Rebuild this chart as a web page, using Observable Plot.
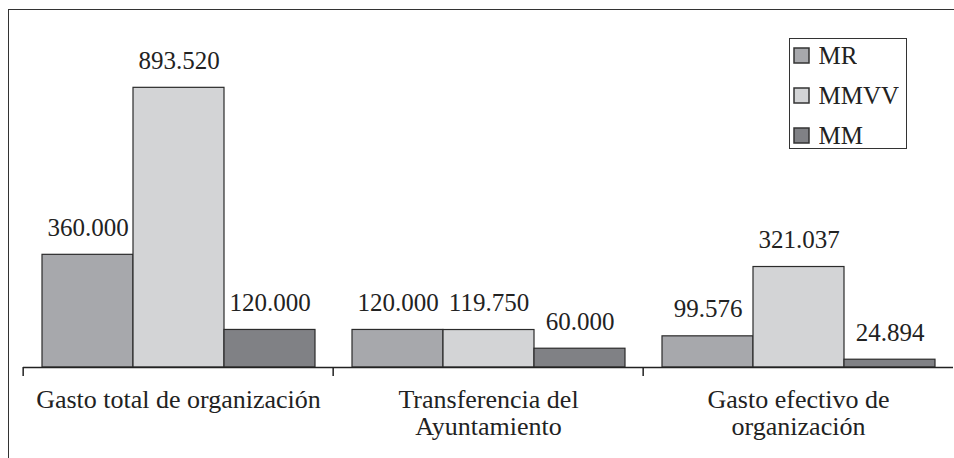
<!DOCTYPE html>
<html>
<head>
<meta charset="utf-8">
<script src="https://cdn.jsdelivr.net/npm/d3@7"></script>
<script src="https://cdn.jsdelivr.net/npm/@observablehq/plot@0.6"></script>
<style>
  html, body { margin: 0; padding: 0; background: #fff; }
  #wrap { position: relative; width: 954px; height: 458px; overflow: hidden; background: #fff; }
  #frame { position: absolute; left: 8px; top: 9px; width: 1200px; height: 800px;
           border-top: 1.5px solid #333; border-left: 1.5px solid #333; pointer-events: none; }
  #chart { position: absolute; left: 0; top: 0; }
  #legendBox { position: absolute; left: 789px; top: 38px; width: 118px; height: 111px;
               box-sizing: border-box; border: 1.5px solid #333; background: #fff; }
  #legend { position: absolute; left: 3.5px; top: -3.5px; }
  #legend .lg-swatches { font-family: "Liberation Serif", "Times New Roman", serif; font-size: 25px; color: #222; margin: 0; }
  #legend .lg-swatch { height: 40px; display: flex; align-items: center; padding: 0; margin: 0; }
  #legend .lg-swatch svg { margin-right: 10px; overflow: visible; }
  #legend .lg-swatch svg rect { stroke: #333; stroke-width: 1.5px; }
</style>
</head>
<body>
<div id="wrap">
  <div id="chart"></div>
  <div id="frame"></div>
  <div id="legendBox"><div id="legend"></div></div>
</div>
<script>
const categories = ["Gasto total de organización", "Transferencia del Ayuntamiento", "Gasto efectivo de organización"];
const tickLabels = ["Gasto total de organización", "Transferencia del\nAyuntamiento", "Gasto efectivo de\norganización"];
const seriesNames = ["MR", "MMVV", "MM"];
const valuesMR = [360000, 120000, 99576];
const valuesMMVV = [893520, 119750, 321037];
const valuesMM = [120000, 60000, 24894];
const seriesColors = ["#a7a8ac", "#d3d4d6", "#808185"];

const seriesValues = [valuesMR, valuesMMVV, valuesMM];
const rows = [];
categories.forEach((c, ci) => {
  seriesNames.forEach((s, si) => {
    rows.push({category: c, series: s, value: seriesValues[si][ci]});
  });
});

const locale = d3.formatLocale({decimal: ",", thousands: ".", grouping: [3], currency: ["", " €"]});
const fmt = locale.format(",d");

const W = 954, H = 458, mL = 22, mR = 0;
const bandW = (W - mL - mR) / categories.length;
const serif = '"Liberation Serif", "Times New Roman", serif';

const chart = Plot.plot({
  width: W,
  height: H,
  marginLeft: mL,
  marginRight: mR,
  marginTop: 54,
  marginBottom: 91,
  style: {fontFamily: serif, background: "transparent", color: "#222"},
  fx: {domain: categories, padding: 0, label: null},
  x: {domain: seriesNames, paddingInner: 0, paddingOuter: 0.2, axis: null},
  y: {domain: [0, 1000000], axis: null},
  color: {domain: seriesNames, range: seriesColors},
  marks: [
    Plot.barY(rows, {fx: "category", x: "series", y: "value", fill: "series", stroke: "#2b2b2b", strokeWidth: 1.2}),
    Plot.ruleY([0], {stroke: "#222", strokeWidth: 1.5}),
    Plot.text(rows, {fx: "category", x: "series", y: "value", text: d => fmt(d.value),
                     lineAnchor: "bottom", dy: -19, fontSize: 25, fill: "#222"}),
    Plot.axisFx({anchor: "bottom", tickSize: 0, tickPadding: 21.5, fontSize: 26, lineHeight: 1.04,
                 tickFormat: c => tickLabels[categories.indexOf(c)], label: null, fill: "#222"}),
    Plot.axisFx({anchor: "bottom", tickSize: 9, tickPadding: 0, tickFormat: () => "", dx: -bandW / 2,
                 label: null, stroke: "#222", strokeWidth: 1.5})
  ]
});
document.getElementById("chart").appendChild(chart);

const legend = Plot.legend({
  color: {domain: seriesNames, range: seriesColors},
  legend: "swatches",
  columns: 1,
  swatchSize: 15,
  className: "lg"
});
document.getElementById("legend").appendChild(legend);
</script>
</body>
</html>
